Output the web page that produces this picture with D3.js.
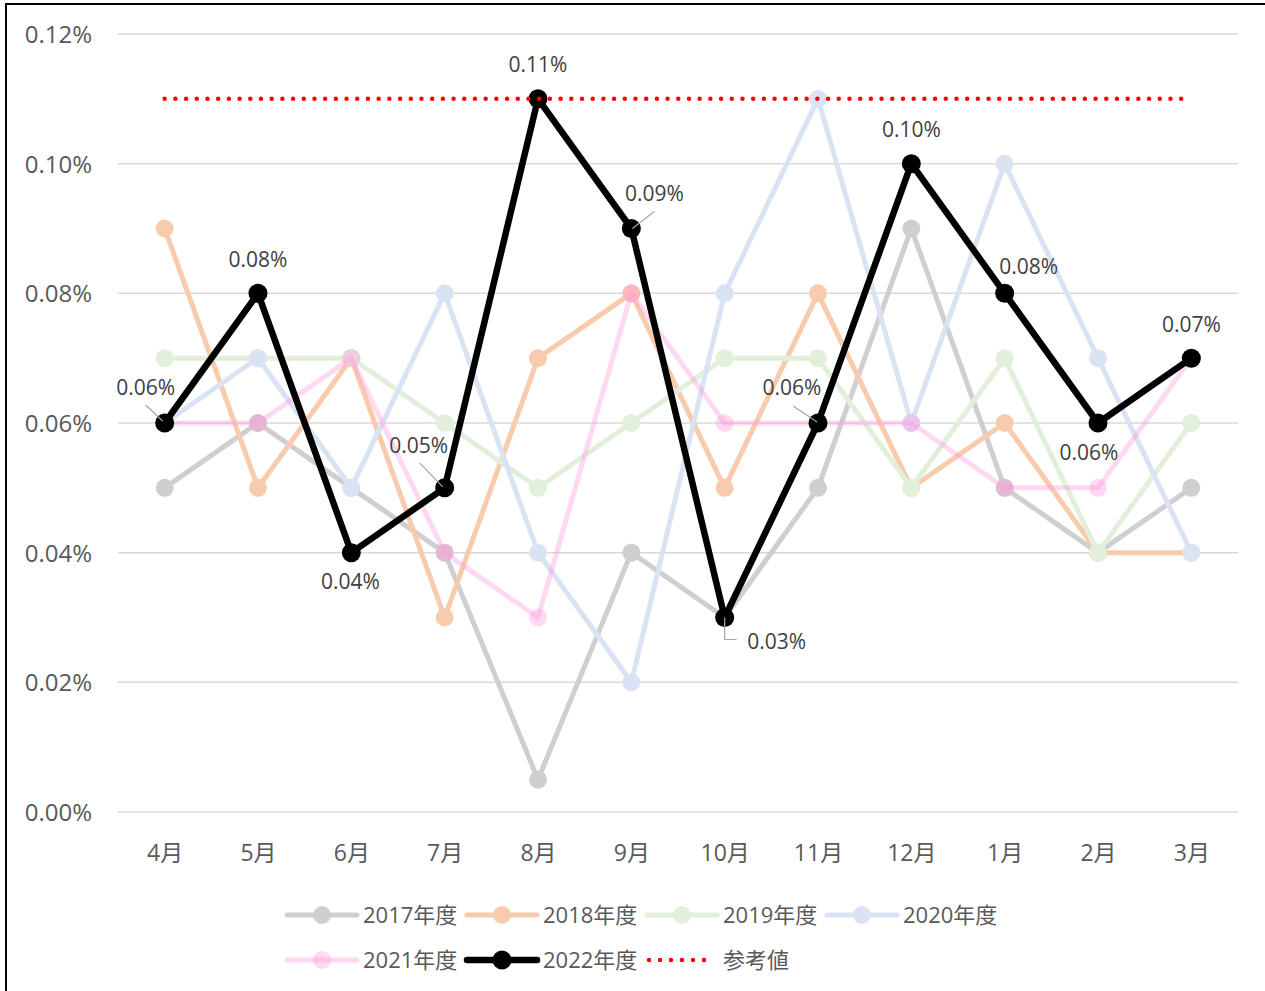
<!DOCTYPE html>
<html lang="ja">
<head>
<meta charset="utf-8">
<title>年度別推移</title>
<script src="https://d3js.org/d3.v7.min.js"></script>
<style>
  html, body { margin: 0; padding: 0; background: #fff; }
  svg { display: block; }
  text { font-family: "Open Sans", "Noto Sans CJK JP", sans-serif; }
</style>
</head>
<body>
<div id="chart"></div>
<script>
// data
const months = ["4月", "5月", "6月", "7月", "8月", "9月", "10月", "11月", "12月", "1月", "2月", "3月"];
const yTicks = [0, 0.0002, 0.0004, 0.0006, 0.0008, 0.0010, 0.0012];
const fy2017 = [0.0005, 0.0006, 0.0005, 0.0004, 0.00005, 0.0004, 0.0003, 0.0005, 0.0009, 0.0005, 0.0004, 0.0005];
const fy2018 = [0.0009, 0.0005, 0.0007, 0.0003, 0.0007, 0.0008, 0.0005, 0.0008, 0.0005, 0.0006, 0.0004, 0.0004];
const fy2019 = [0.0007, 0.0007, 0.0007, 0.0006, 0.0005, 0.0006, 0.0007, 0.0007, 0.0005, 0.0007, 0.0004, 0.0006];
const fy2020 = [0.0006, 0.0007, 0.0005, 0.0008, 0.0004, 0.0002, 0.0008, 0.0011, 0.0006, 0.0010, 0.0007, 0.0004];
const fy2021 = [0.0006, 0.0006, 0.0007, 0.0004, 0.0003, 0.0008, 0.0006, 0.0006, 0.0006, 0.0005, 0.0005, 0.0007];
const fy2022 = [0.0006, 0.0008, 0.0004, 0.0005, 0.0011, 0.0009, 0.0003, 0.0006, 0.0010, 0.0008, 0.0006, 0.0007];
const refValue = 0.0011;

const W = 1265, H = 991;
const plot = {left: 118, right: 1238, top: 34, bottom: 812};

const series = [
  {name: "2017年度", values: fy2017, color: "#d0cece", opacity: 1, width: 5, r: 9},
  {name: "2018年度", values: fy2018, color: "#f8cbad", opacity: 1, width: 5, r: 9},
  {name: "2019年度", values: fy2019, color: "#e2efda", opacity: 1, width: 5, r: 9},
  {name: "2020年度", values: fy2020, color: "#dae3f3", opacity: 1, width: 5, r: 9},
  {name: "2021年度", values: fy2021, color: "#ff99dd", opacity: 0.38, width: 5, r: 9},
  {name: "2022年度", values: fy2022, color: "#000000", opacity: 1, width: 6.5, r: 9.5}
];

// label placement for 2022 (pixel offsets from the point)
const labelOffsets = [[-19, -35], [0, -34], [-1, 29], [-26, -42], [0, -34], [23, -35],
                      [52, 24], [-26, -35], [0, -34], [24, -27], [-9, 30], [0, -34]];
const leaders = {
  0: [[-19, -18], [-2, -2]],
  3: [[-25, -25], [-2, -1]],
  5: [[23, -17], [1, 0]],
  6: [[0, 0], [0, 22], [12, 22]],
  7: [[-25, -17], [-1, -1]]
};

const svg = d3.select("#chart").append("svg")
  .attr("width", W).attr("height", H);

svg.append("rect").attr("width", W).attr("height", H).attr("fill", "#fff");
svg.append("rect")
  .attr("x", 6).attr("y", 4).attr("width", W + 20).attr("height", H + 20)
  .attr("fill", "none").attr("stroke", "#000").attr("stroke-width", 2);

const x = d3.scalePoint().domain(months).range([plot.left, plot.right]).padding(0.5);
const y = d3.scaleLinear().domain([0, 0.0012]).range([plot.bottom, plot.top]);

// gridlines
svg.append("g").selectAll("line").data(yTicks).join("line")
  .attr("x1", plot.left).attr("x2", plot.right)
  .attr("y1", d => y(d)).attr("y2", d => y(d))
  .attr("stroke", "#d9d9d9").attr("stroke-width", 1.5);

// y axis labels
const yAxis = d3.axisLeft(y).tickValues(yTicks).tickSize(0).tickPadding(0)
  .tickFormat(d => (d * 100).toFixed(2) + "%");
svg.append("g")
  .attr("transform", `translate(92,0)`)
  .call(yAxis)
  .call(g => g.select(".domain").remove())
  .call(g => g.selectAll("text")
    .attr("font-family", "'Open Sans', 'Noto Sans CJK JP', sans-serif")
    .attr("font-size", 24).attr("fill", "#595959").attr("dy", "0.35em"));

// x axis labels
const xAxis = d3.axisBottom(x).tickSize(0).tickPadding(0);
svg.append("g")
  .attr("transform", `translate(0,${plot.bottom + 41})`)
  .call(xAxis)
  .call(g => g.select(".domain").remove())
  .call(g => g.selectAll("text")
    .attr("font-family", "'Open Sans', 'Noto Sans CJK JP', sans-serif")
    .attr("font-size", 23).attr("fill", "#595959").attr("dy", "0.35em"));

const line = d3.line().x((d, i) => x(months[i])).y(d => y(d));

series.forEach(s => {
  const g = svg.append("g");
  g.append("path")
    .attr("d", line(s.values))
    .attr("fill", "none")
    .attr("stroke", s.color)
    .attr("stroke-opacity", s.opacity)
    .attr("stroke-width", s.width)
    .attr("stroke-linejoin", "round")
    .attr("stroke-linecap", "round");
  g.selectAll("circle").data(s.values).join("circle")
    .attr("cx", (d, i) => x(months[i]))
    .attr("cy", d => y(d))
    .attr("r", s.r)
    .attr("fill", s.color)
    .attr("fill-opacity", s.opacity);
});

// reference line
svg.append("line")
  .attr("x1", x(months[0])).attr("x2", x(months[months.length - 1]))
  .attr("y1", y(refValue)).attr("y2", y(refValue))
  .attr("stroke", "#ff0000").attr("stroke-width", 4.5)
  .attr("stroke-linecap", "round").attr("stroke-dasharray", "0 10.7");

// data labels for 2022
const lab = svg.append("g");
fy2022.forEach((v, i) => {
  const px = x(months[i]), py = y(v);
  if (leaders[i]) {
    lab.append("polyline")
      .attr("points", leaders[i].map(p => [px + p[0], py + p[1]].join(",")).join(" "))
      .attr("fill", "none").attr("stroke", "#a6a6a6").attr("stroke-width", 1.2);
  }
  lab.append("text")
    .attr("x", px + labelOffsets[i][0])
    .attr("y", py + labelOffsets[i][1])
    .attr("text-anchor", "middle")
    .attr("dy", "0.35em")
    .attr("font-size", 21)
    .attr("fill", "#404040")
    .text((v * 100).toFixed(2) + "%");
});

// legend
const legendItems = series.map(s => ({name: s.name, color: s.color, opacity: s.opacity, width: s.width, r: s.r, ref: false}))
  .concat([{name: "参考値", color: "#ff0000", ref: true}]);
const legend = svg.append("g");
legendItems.forEach((d, i) => {
  const col = i < 4 ? i : i - 4;
  const row = i < 4 ? 0 : 1;
  const lx = 287 + col * 180;
  const ly = 915 + row * 45;
  const g = legend.append("g").attr("transform", `translate(${lx},${ly})`);
  if (d.ref) {
    g.append("line").attr("x1", 2).attr("x2", 68).attr("y1", 0).attr("y2", 0)
      .attr("stroke", d.color).attr("stroke-width", 4.5)
      .attr("stroke-linecap", "round").attr("stroke-dasharray", "0 11");
  } else {
    g.append("line").attr("x1", 0).attr("x2", 70).attr("y1", 0).attr("y2", 0)
      .attr("stroke", d.color).attr("stroke-opacity", d.opacity)
      .attr("stroke-width", d.width).attr("stroke-linecap", "round");
    g.append("circle").attr("cx", 35).attr("cy", 0).attr("r", d.r)
      .attr("fill", d.color).attr("fill-opacity", d.opacity);
  }
  g.append("text").attr("x", d.ref ? 76 : 76).attr("y", 0).attr("dy", "0.35em")
    .attr("font-size", 22).attr("fill", "#595959").text(d.name);
});
</script>
</body>
</html>
